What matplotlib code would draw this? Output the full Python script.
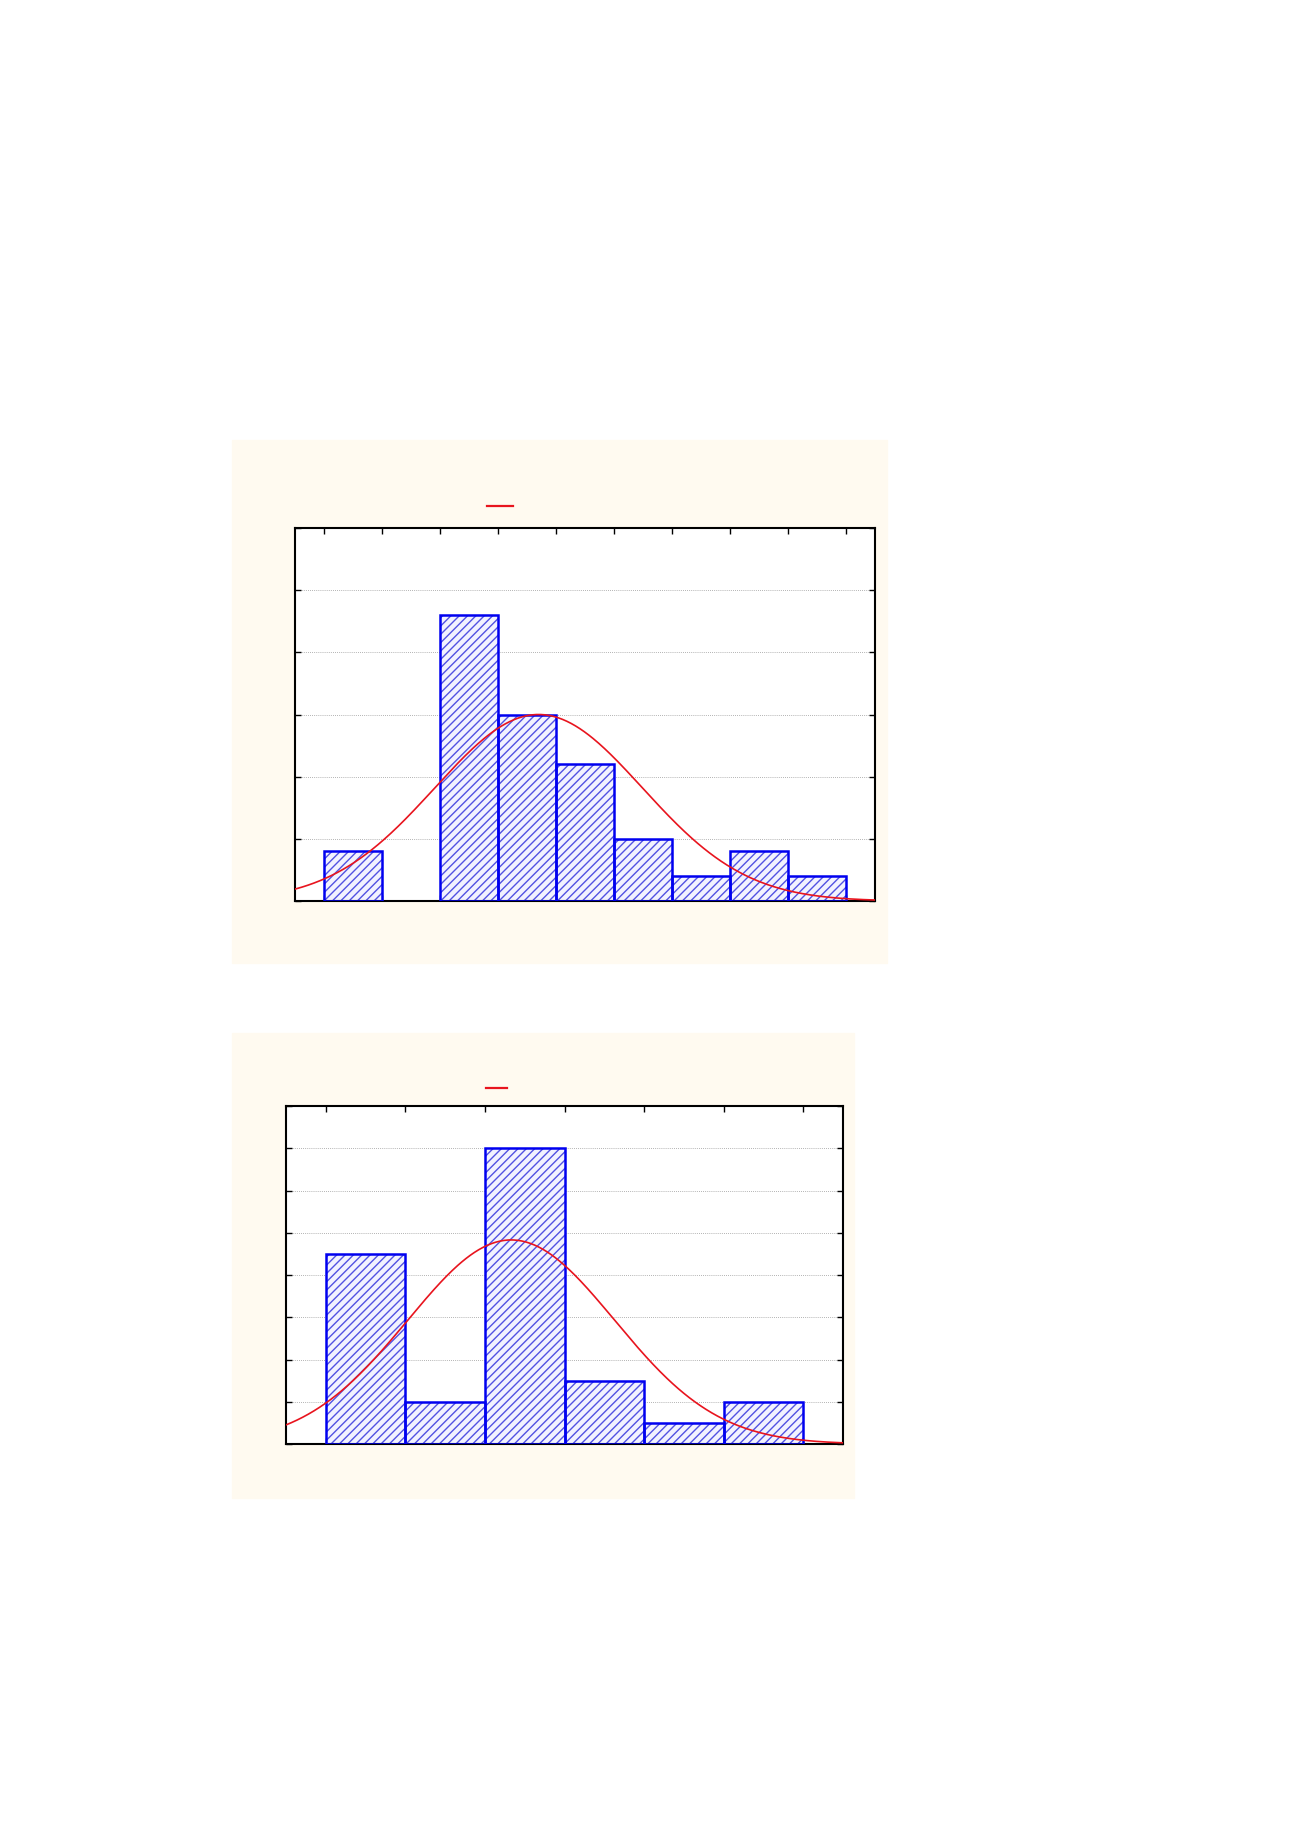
import numpy as np
import matplotlib
matplotlib.use("Agg")
from matplotlib import pyplot as plt
from matplotlib.patches import Rectangle
from matplotlib.lines import Line2D

# upper histogram: class edges (tick units) and bar heights
top_edges = [0, 1, 2, 3, 4, 5, 6, 7, 8, 9]
top_heights = [0.8, 0.0, 4.6, 3.0, 2.2, 1.0, 0.4, 0.8, 0.4]
top_ymax = 6
# fitted normal curve: mean, sd, peak height
top_fit_mean, top_fit_sd, top_fit_peak = 3.7, 1.79, 3.0

# lower histogram
bot_edges = [0, 1, 2, 3, 4, 5, 6]
bot_heights = [4.5, 1.0, 7.0, 1.5, 0.5, 1.0]
bot_ymax = 8
bot_fit_mean, bot_fit_sd, bot_fit_peak = 2.33, 1.30, 4.83

BG = "#fffaf0"
BAR_EDGE = "#0000f0"
HATCH = "#5252e2"
CURVE = "#e8141e"

plt.rcParams["hatch.linewidth"] = 1.0

W, H = 1300, 1841
fig = plt.figure(figsize=(W / 100, H / 100), dpi=100)


def fig_rect(x0, y0, x1, y1):
    """pixel box (top-left origin) -> figure fraction [l, b, w, h]"""
    return [x0 / W, 1 - y1 / H, (x1 - x0) / W, (y1 - y0) / H]


def panel(bg_box, ax_box, leg_y, leg_x, edges, heights, ymax, mean, sd, peak):
    l, b, w, h = fig_rect(*bg_box)
    fig.patches.append(Rectangle((l, b), w, h, transform=fig.transFigure,
                                 color=BG, zorder=-5))
    fig.lines.append(Line2D([leg_x[0] / W, leg_x[1] / W], [1 - leg_y / H] * 2,
                            transform=fig.transFigure, color=CURVE, lw=1.6))
    ax = fig.add_axes(fig_rect(*ax_box))
    ax.set_facecolor("white")
    lefts = np.array(edges[:-1], dtype=float)
    widths = np.diff(edges)
    hs = np.array(heights)
    keep = hs > 0
    # hatched fill, then a separate pass for the solid outline
    ax.bar(lefts[keep], hs[keep], widths[keep], align="edge", facecolor="#f2f2ff",
           edgecolor=HATCH, hatch="////", lw=0, zorder=2)
    ax.bar(lefts[keep], hs[keep], widths[keep], align="edge", facecolor="none",
           edgecolor=BAR_EDGE, lw=1.8, zorder=3)
    xlo, xhi = edges[0] - 0.5, edges[-1] + 0.5
    xs = np.linspace(xlo, xhi, 400)
    ax.plot(xs, peak * np.exp(-0.5 * ((xs - mean) / sd) ** 2), color=CURVE,
            lw=1.2, zorder=4)
    ax.set_xlim(xlo, xhi)
    ax.set_ylim(0, ymax)
    ax.set_xticks(edges)
    ax.set_yticks(range(ymax + 1))
    ax.tick_params(direction="in", length=4, width=1, top=True, right=True,
                   labelbottom=False, labelleft=False)
    ax.grid(axis="y", ls=(0, (1, 1.5)), lw=0.6, color="#9a9a9a", zorder=1)
    ax.set_axisbelow(True)
    for s in ax.spines.values():
        s.set_linewidth(1.5)
    return ax


panel((232, 440, 887, 963), (295, 528, 875, 901), 506, (487, 513),
      top_edges, top_heights, top_ymax, top_fit_mean, top_fit_sd, top_fit_peak)
panel((232, 1033, 854, 1498), (286, 1106, 843, 1444), 1088, (486, 507),
      bot_edges, bot_heights, bot_ymax, bot_fit_mean, bot_fit_sd, bot_fit_peak)

fig.savefig("out.png", dpi=100, facecolor="white")
